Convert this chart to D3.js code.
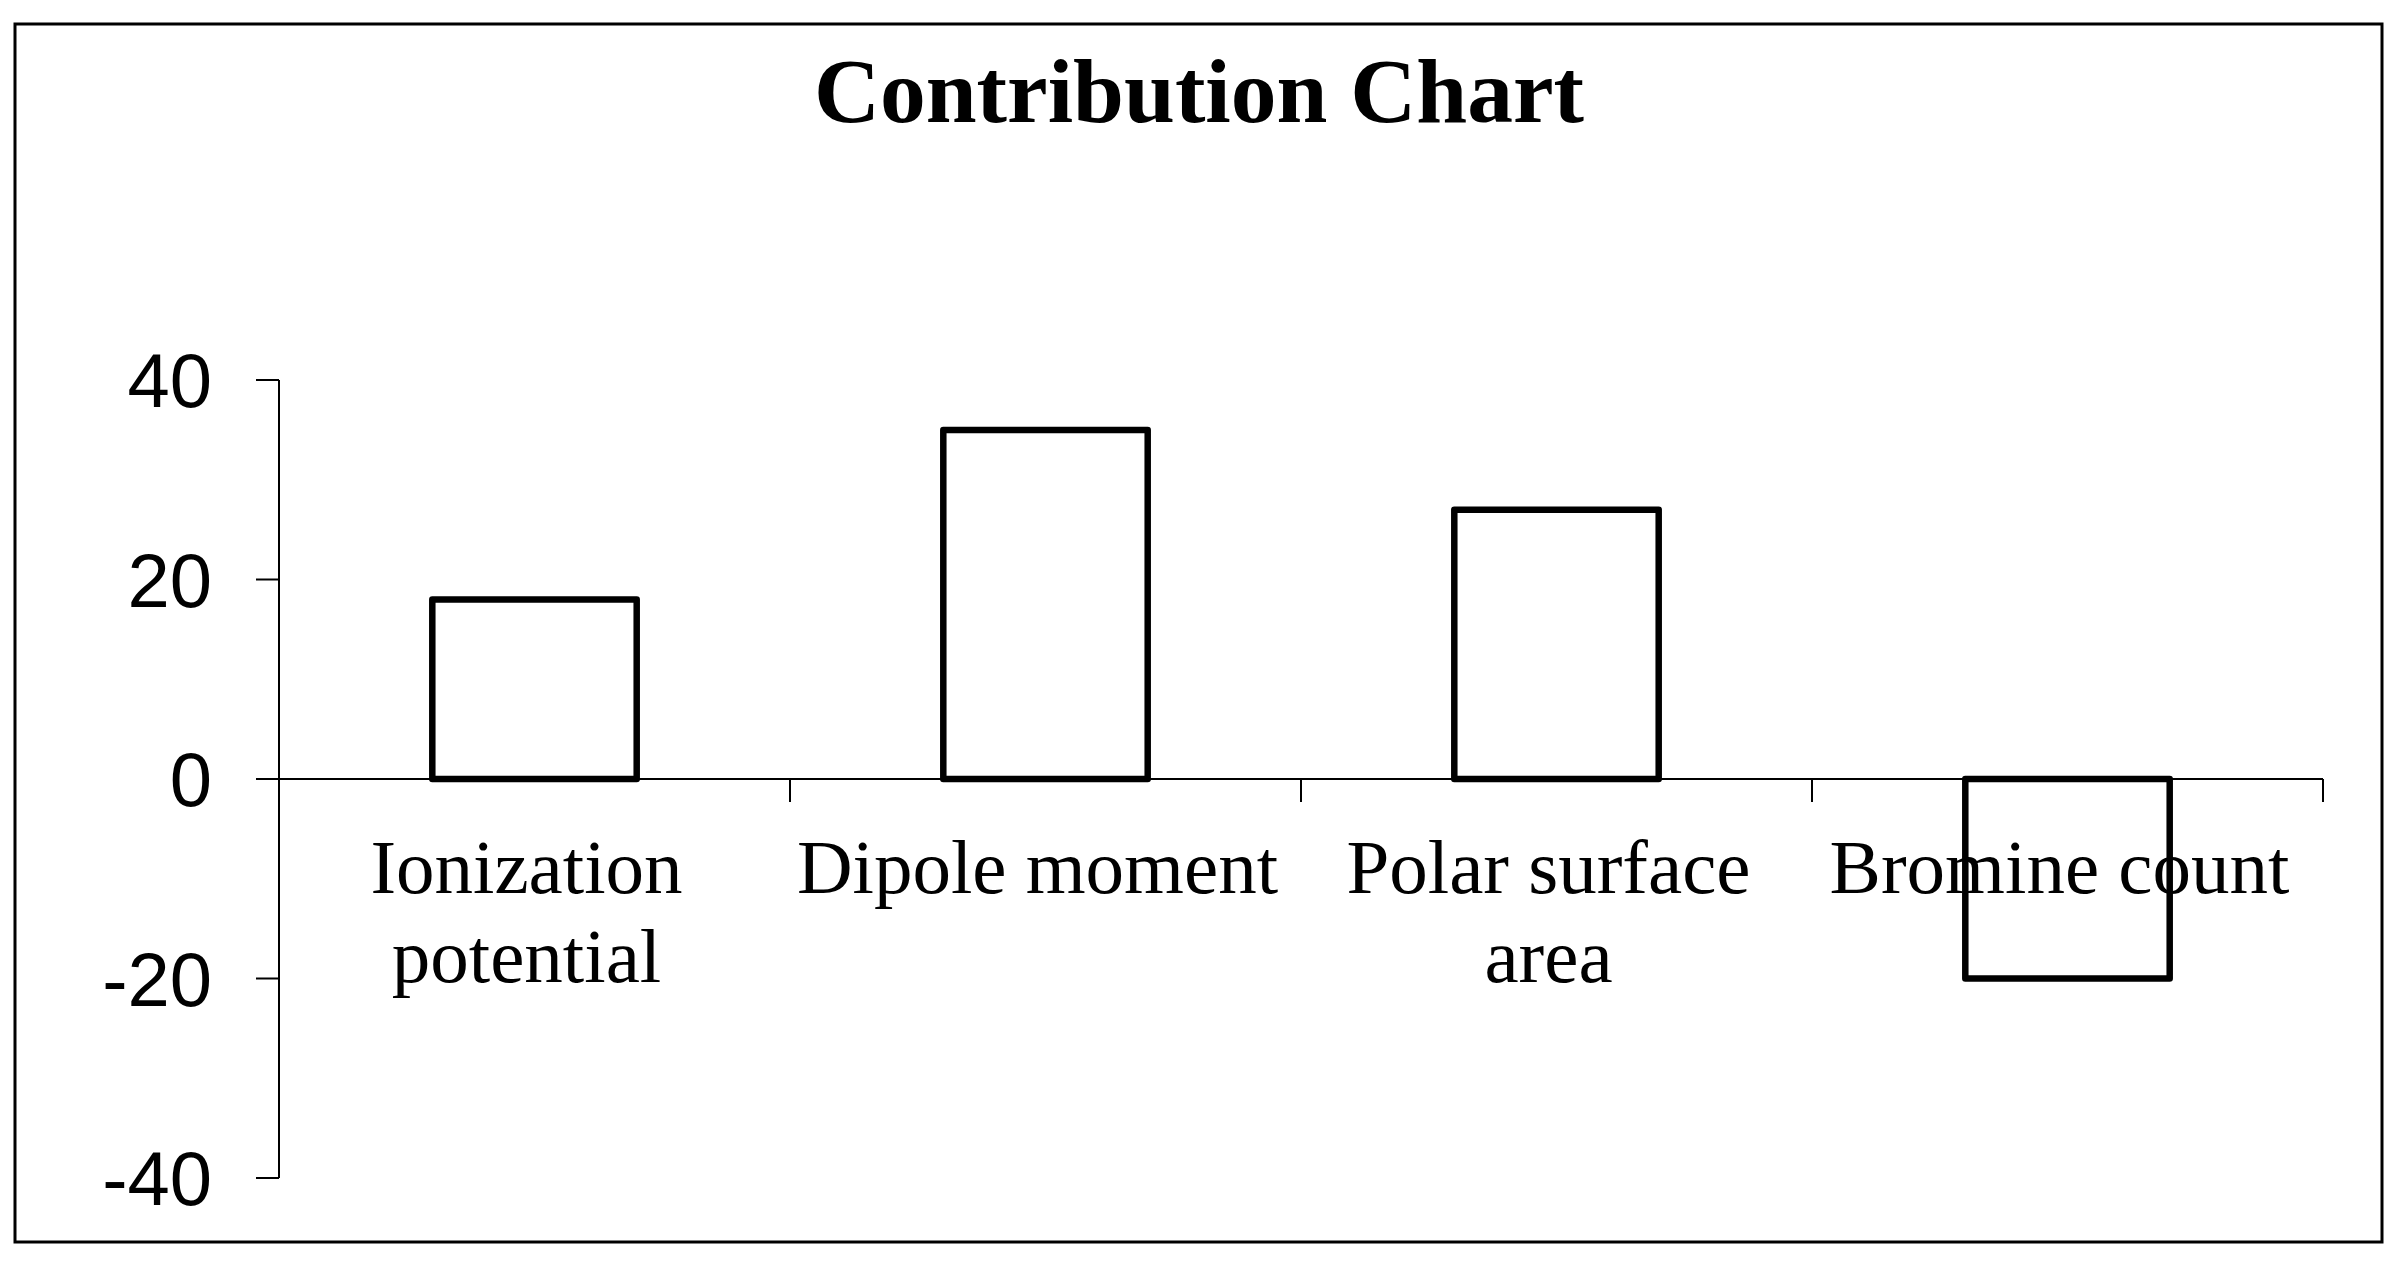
<!DOCTYPE html>
<html>
<head>
<meta charset="utf-8">
<script src="https://cdn.jsdelivr.net/npm/d3@7"></script>
<style>
  html, body { margin: 0; padding: 0; background: #fff; }
  svg { display: block; }
</style>
</head>
<body>
<svg id="chart" width="2401" height="1275"></svg>
<script>
const titleText = "Contribution Chart";
const categories = ["Ionization potential", "Dipole moment", "Polar surface area", "Bromine count"];
const values = [18, 35, 27, -20];
const yTicks = [-40, -20, 0, 20, 40];

(function () {
const svg = d3.select("#chart");

// outer frame
svg.append("rect")
  .attr("x", 15).attr("y", 24)
  .attr("width", 2382 - 15).attr("height", 1242 - 24)
  .attr("fill", "#fff").attr("stroke", "#000").attr("stroke-width", 3);

// title
svg.append("text")
  .attr("x", 1199).attr("y", 122)
  .attr("text-anchor", "middle")
  .attr("font-family", "'Liberation Serif', 'Times New Roman', serif")
  .attr("font-weight", "bold")
  .attr("font-size", 91.5)
  .text(titleText);

const plotLeft = 279, plotRight = 2323, plotTop = 380, plotBottom = 1178;

const y = d3.scaleLinear().domain([-40, 40]).range([plotBottom, plotTop]);
const x = d3.scaleBand().domain(categories).range([plotLeft, plotRight])
  .paddingInner(0.6).paddingOuter(0.3);
const xb = d3.scaleLinear().domain([0, categories.length]).range([plotLeft, plotRight]);

// y axis
const yAxis = svg.append("g")
  .attr("transform", `translate(${plotLeft},0)`)
  .call(d3.axisLeft(y).tickValues(yTicks).tickFormat(d => String(d))
    .tickSize(23).tickSizeOuter(0).tickPadding(44).offset(0));
yAxis.selectAll("path, line").attr("stroke", "#000").attr("stroke-width", 2);
yAxis.selectAll("text")
  .attr("font-family", "'Liberation Sans', Arial, sans-serif")
  .attr("font-size", 76)
  .attr("fill", "#000")
  .attr("dy", "0.36em");

// x axis at zero with boundary ticks
const xAxis = svg.append("g")
  .attr("transform", `translate(0,${y(0)})`)
  .call(d3.axisBottom(xb).tickValues(d3.range(0, categories.length + 1)).tickSize(23).tickSizeOuter(0).tickFormat("").offset(0));
xAxis.selectAll("path, line").attr("stroke", "#000").attr("stroke-width", 2);

// category labels (wrapped)
const labelG = svg.append("g")
  .attr("font-family", "'Liberation Serif', 'Times New Roman', serif")
  .attr("font-size", 77)
  .attr("fill", "#000")
  .attr("text-anchor", "middle");

const step = x.step();
categories.forEach(c => {
  const cx = x(c) + x.bandwidth() / 2 - 8;
  const t = labelG.append("text").attr("x", cx).attr("y", 893);
  const words = c.split(" ");
  const lines = [];
  let cur = [];
  const probe = labelG.append("text").attr("visibility", "hidden");
  words.forEach(w => {
    const test = cur.concat([w]).join(" ");
    probe.text(test);
    if (cur.length && probe.node().getComputedTextLength() > step * 0.97) {
      lines.push(cur.join(" "));
      cur = [w];
    } else {
      cur.push(w);
    }
  });
  if (cur.length) lines.push(cur.join(" "));
  probe.remove();
  lines.forEach((ln, i) => {
    t.append("tspan").attr("x", cx).attr("y", 893 + i * 89).text(ln);
  });
});

// bars
svg.append("g").selectAll("rect")
  .data(values)
  .join("rect")
  .attr("x", (d, i) => x(categories[i]))
  .attr("width", x.bandwidth())
  .attr("y", d => y(Math.max(0, d)))
  .attr("height", d => Math.abs(y(d) - y(0)))
  .attr("fill", "none")
  .attr("stroke", "#000")
  .attr("stroke-width", 6.5)
  .attr("stroke-linejoin", "round");
})();
</script>
</body>
</html>
